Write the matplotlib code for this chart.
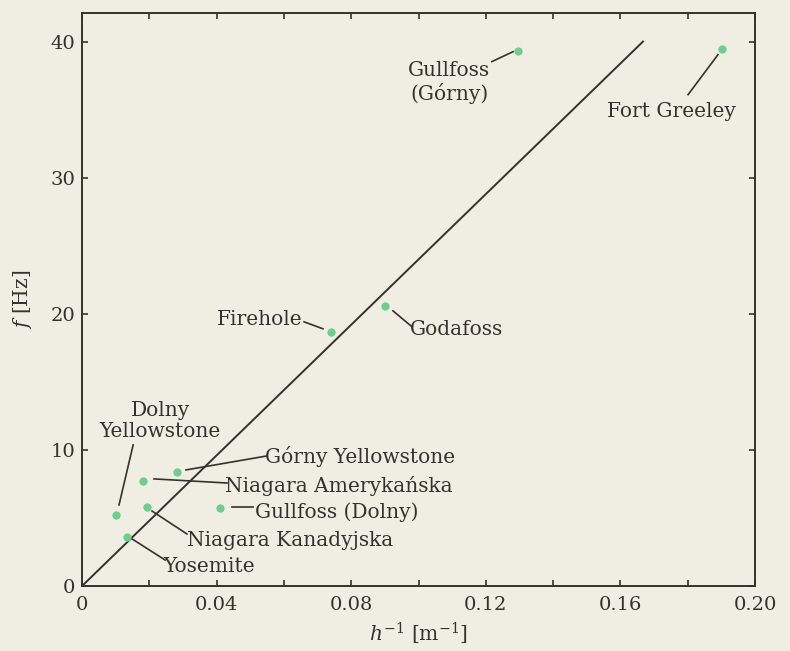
import matplotlib
matplotlib.use("Agg")
import matplotlib.pyplot as plt
from matplotlib.ticker import MultipleLocator

# waterfalls: 1/h [1/m] vs f [Hz]
names = ["Gullfoss\n(Górny)", "Fort Greeley", "Firehole", "Godafoss",
         "Dolny\nYellowstone", "Górny Yellowstone", "Niagara Amerykańska",
         "Gullfoss (Dolny)", "Niagara Kanadyjska", "Yosemite"]
inv_h = [0.1296, 0.1902, 0.0740, 0.0900, 0.0101, 0.0282, 0.0181, 0.0410, 0.0193, 0.0134]
freq = [39.34, 39.49, 18.68, 20.59, 5.22, 8.38, 7.72, 5.74, 5.81, 3.60]

# fitted line through the origin
fit_x = [0.0, 0.1667]
fit_y = [0.0, 40.0]

# label placement: text position, alignment, leader line (start, end)
label_pos = [(0.1091, 36.99), (0.1753, 34.85), (0.0654, 19.56), (0.0975, 18.82),
             (0.0232, 12.13), (0.0544, 9.49), (0.0425, 7.35), (0.0514, 5.44),
             (0.0312, 3.38), (0.0241, 1.40)]
label_ha = ["center", "center", "right", "left", "center", "left", "left", "left", "left", "left"]
leaders = [((0.1218, 38.53), (0.1281, 39.26)),
           ((0.1801, 36.10), (0.1890, 39.04)),
           ((0.0660, 19.41), (0.0716, 18.90)),
           ((0.0924, 20.22), (0.0981, 19.04)),
           ((0.0152, 10.37), (0.0110, 5.96)),
           ((0.0309, 8.53), (0.0550, 9.56)),
           ((0.0214, 7.87), (0.0431, 7.57)),
           ((0.0446, 5.81), (0.0508, 5.81)),
           ((0.0208, 5.51), (0.0312, 3.82)),
           ((0.0149, 3.46), (0.0247, 1.91))]

paper = "#f0eee2"
ink = "#36312c"
dot = "#6fce8f"

plt.rcParams["font.family"] = ["DejaVu Serif"]
plt.rcParams["mathtext.fontset"] = "dejavuserif"

fig = plt.figure(figsize=(7.9, 6.51), dpi=100, facecolor=paper)
ax = fig.add_axes([0.1038, 0.0998, 0.8519, 0.8802])
ax.set_facecolor(paper)

ax.plot(fit_x, fit_y, color=ink, lw=1.4)
ax.plot(inv_h, freq, "o", color=dot, ms=6, mec="none", zorder=3)

for name, pos, ha, (p1, p2) in zip(names, label_pos, label_ha, leaders):
    ax.text(pos[0], pos[1], name, ha=ha, va="center", multialignment="center",
            fontsize=14.5, color=ink, linespacing=1.15)
    ax.plot([p1[0], p2[0]], [p1[1], p2[1]], color=ink, lw=1.2)

ax.set_xlim(0, 0.2)
ax.set_ylim(0, 42.1)
ax.xaxis.set_minor_locator(MultipleLocator(0.02))
ax.yaxis.set_major_locator(MultipleLocator(10))
ax.set_xticks([0, 0.04, 0.08, 0.12, 0.16, 0.20])
ax.set_xticklabels(["0", "0.04", "0.08", "0.12", "0.16", "0.20"])

ax.tick_params(which="both", direction="in", top=True, right=True, length=4,
               width=1.2, color=ink, labelcolor=ink, labelsize=14)
ax.tick_params(axis="x", pad=7)
ax.tick_params(axis="y", pad=5)
for s in ax.spines.values():
    s.set_color(ink)
    s.set_linewidth(1.4)

ax.set_xlabel(r"$h^{-1}$ [m$^{-1}$]", fontsize=14.5, color=ink, labelpad=5)
ax.set_ylabel(r"$f$ [Hz]", fontsize=14.5, color=ink, labelpad=12)

fig.savefig("out.png", dpi=100, facecolor=paper)
